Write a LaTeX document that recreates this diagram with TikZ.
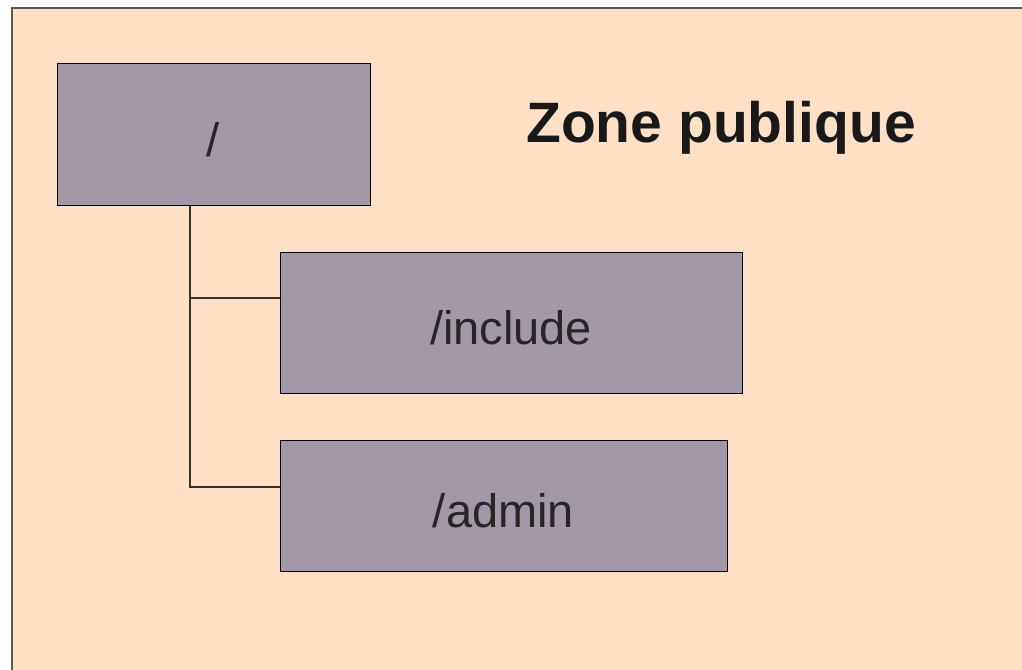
\documentclass[tikz,border=0pt]{standalone}
\usepackage{fontspec}
\setmainfont{Liberation Sans}
\usetikzlibrary{positioning}

\definecolor{zonebg}{HTML}{FFE0C4}
\definecolor{dirfill}{HTML}{A497A8}

\tikzset{
  dirbox/.style={draw=black, line width=1pt, fill=dirfill, rectangle,
    inner sep=0pt, text height=43pt, text depth=0pt,
    font=\fontsize{47}{50}\selectfont, text=black!85},
  treeline/.style={draw=black!80, line width=1.2pt}
}

\begin{document}
\begin{tikzpicture}[x=1pt, y=-1pt]
    \useasboundingbox (0,0) rectangle (1022,669);

    % Public area background
    \fill[zonebg] (12,8) rectangle (1024,671);
    \draw[black!65, line width=1.2pt] (12,671) -- (12,8) -- (1024,8);

    % Title
    \node[anchor=base, text=black!90] (title) at (721,142)
        {\fontsize{57}{60}\selectfont\bfseries Zone publique};

    % Directories
    \node[dirbox, minimum width=313, minimum height=141] (root) at (213.5,134.5) {/};
    \node[dirbox, minimum width=462, minimum height=141] (inc) at (511,322.5) {/include};
    \node[dirbox, minimum width=447, minimum height=131] (adm) at (503.5,505.5) {/admin};

    % Tree branches
    \coordinate (brInc) at (190,298);
    \coordinate (brAdm) at (190,487);
    \draw[treeline] (root.south -| brAdm) -- (brAdm) -- (adm.west |- brAdm);
    \draw[treeline] (brInc) -- (inc.west |- brInc);
\end{tikzpicture}
\end{document}
